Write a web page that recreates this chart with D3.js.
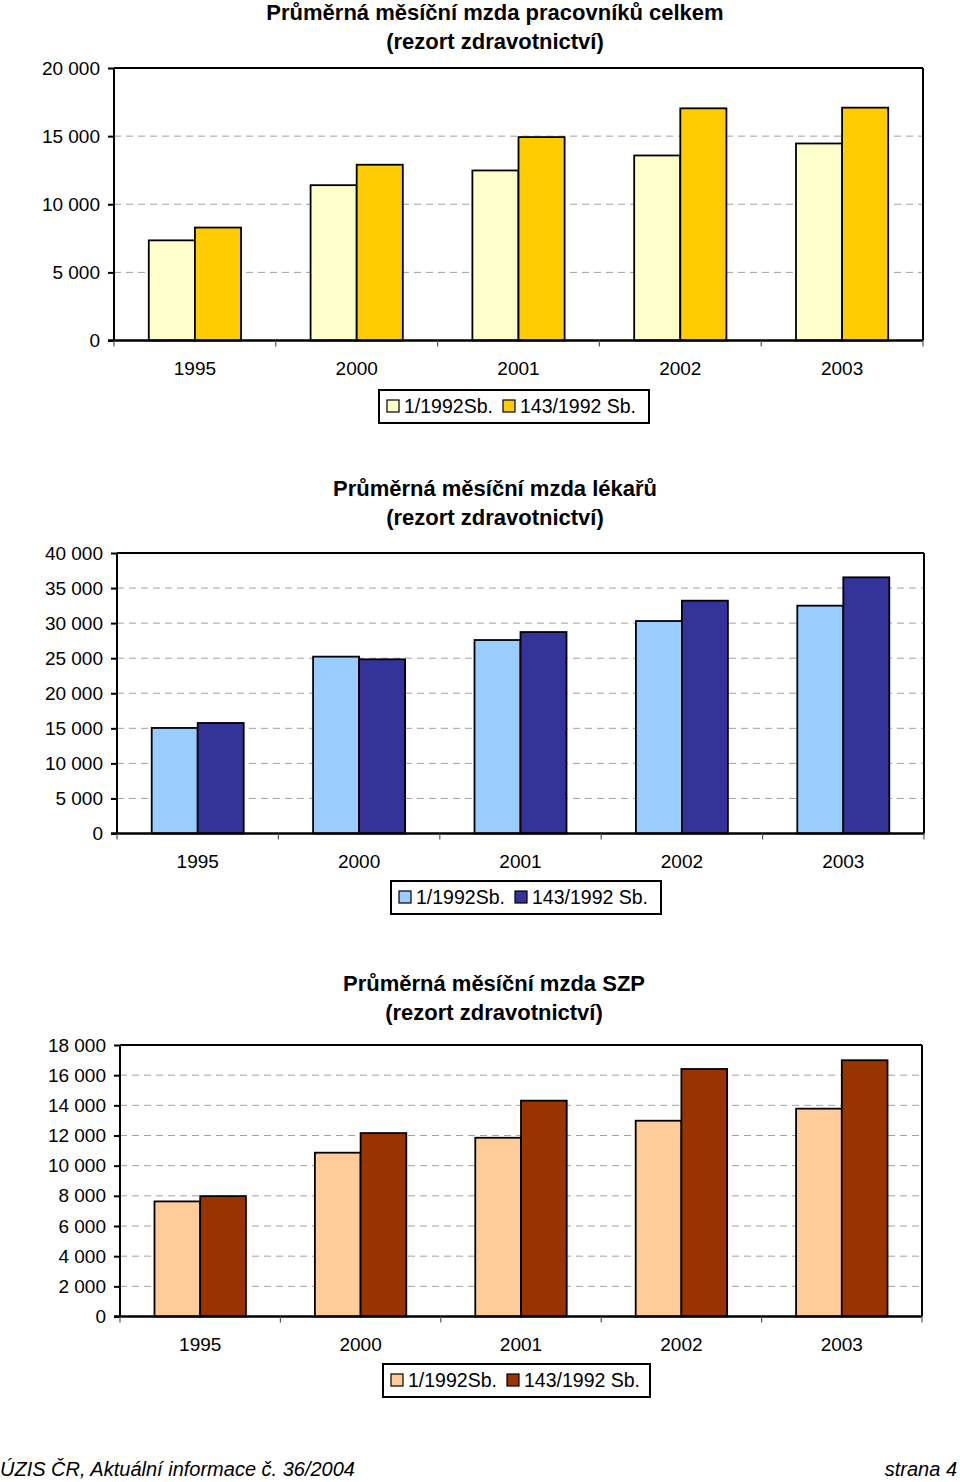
<!DOCTYPE html>
<html><head><meta charset="utf-8">
<script src="https://cdn.jsdelivr.net/npm/d3@7"></script>
<style>
body{margin:0;background:#fff;}
svg{display:block;font-family:"Liberation Sans",Arial,sans-serif;}
</style></head>
<body>
<svg id="c" width="960" height="1482"></svg>
<script>
const categories = ["1995","2000","2001","2002","2003"];
const seriesNames = ["1/1992Sb.","143/1992 Sb."];

const chart1Title = ["Průměrná měsíční mzda pracovníků celkem","(rezort zdravotnictví)"];
const chart1Old = [7350, 11400, 12480, 13580, 14460];
const chart1New = [8290, 12900, 14930, 17040, 17090];
const chart1Ticks = [0, 5000, 10000, 15000, 20000];

const chart2Title = ["Průměrná měsíční mzda lékařů","(rezort zdravotnictví)"];
const chart2Old = [15050, 25220, 27590, 30300, 32490];
const chart2New = [15760, 24840, 28730, 33200, 36530];
const chart2Ticks = [0, 5000, 10000, 15000, 20000, 25000, 30000, 35000, 40000];

const chart3Title = ["Průměrná měsíční mzda SZP","(rezort zdravotnictví)"];
const chart3Old = [7630, 10860, 11850, 12980, 13780];
const chart3New = [7980, 12160, 14310, 16410, 16990];
const chart3Ticks = [0, 2000, 4000, 6000, 8000, 10000, 12000, 14000, 16000, 18000];

const footerLeft = "ÚZIS ČR, Aktuální informace č. 36/2004";
const footerRight = "strana 4";

const svg = d3.select("#c");
const fmt = v => d3.format(",")(v).replace(/,/g, " ");

function drawChart(o) {
  const g = svg.append("g");
  const x0 = d3.scaleBand().domain(categories).range([o.left, o.right]).paddingInner(0.43).paddingOuter(0.215);
  const x1 = d3.scaleBand().domain([0,1]).range([0, x0.bandwidth()]);
  const y = d3.scaleLinear().domain([0, o.ticks[o.ticks.length-1]]).range([o.bottom, o.top]);

  // title
  o.title.forEach((t,i) => g.append("text").attr("x", o.titleX).attr("y", o.titleY + i*28.5)
    .attr("text-anchor","middle").attr("font-weight","bold").attr("font-size",22).attr("fill","#000").text(t));

  // grid
  g.append("g").selectAll("line").data(o.ticks.slice(1, -1)).join("line")
    .attr("x1", o.left).attr("x2", o.right).attr("y1", d => y(d)).attr("y2", d => y(d))
    .attr("stroke", "#a0a0a0").attr("stroke-width", 1).attr("stroke-dasharray", "7,5");

  // plot frame top/right
  g.append("line").attr("x1", o.left).attr("x2", o.right).attr("y1", o.top).attr("y2", o.top).attr("stroke","#000").attr("stroke-width",2);
  g.append("line").attr("x1", o.right).attr("x2", o.right).attr("y1", o.top).attr("y2", o.bottom).attr("stroke","#000").attr("stroke-width",2);

  // bars
  const rows = categories.map((c,i) => ({c, v:[o.old[i], o.neu[i]]}));
  const grp = g.append("g").selectAll("g").data(rows).join("g").attr("transform", d => `translate(${x0(d.c)},0)`);
  grp.selectAll("rect").data(d => d.v.map((v,k)=>({v,k}))).join("rect")
    .attr("x", d => x1(d.k)).attr("width", x1.bandwidth())
    .attr("y", d => y(d.v)).attr("height", d => o.bottom - y(d.v))
    .attr("fill", d => o.colors[d.k]).attr("stroke", "#000").attr("stroke-width", 1.8);

  // y axis
  const ya = g.append("g").attr("transform", `translate(${o.left},0)`)
    .call(d3.axisLeft(y).tickValues(o.ticks).tickFormat(fmt).tickSize(6).tickPadding(8));
  ya.select(".domain").attr("stroke","#000").attr("stroke-width",2).attr("d", `M0,${o.top}V${o.bottom}`);
  ya.selectAll(".tick line").attr("stroke","#000").attr("stroke-width",2);
  ya.selectAll("text").attr("font-size",19).attr("font-family","Liberation Sans, Arial, sans-serif").attr("fill","#000");

  // x axis
  const xa = g.append("g").attr("transform", `translate(0,${o.bottom})`)
    .call(d3.axisBottom(x0).tickSize(0).tickPadding(21));
  xa.select(".domain").attr("stroke","#000").attr("stroke-width",2.5).attr("d", `M${o.left-6},0H${o.right}`);
  xa.selectAll("text").attr("font-size",19).attr("font-family","Liberation Sans, Arial, sans-serif").attr("fill","#000");
  const bounds = d3.range(categories.length + 1).map(i => o.left + i * x0.step());
  g.append("g").selectAll("line").data(bounds).join("line")
    .attr("x1", d => d).attr("x2", d => d).attr("y1", o.bottom).attr("y2", o.bottom + 6)
    .attr("stroke", "#555").attr("stroke-width", 1.2);

  // legend
  const lg = g.append("g");
  lg.append("rect").attr("x", o.legX).attr("y", o.legY).attr("width", o.legW).attr("height", 33)
    .attr("fill","#fff").attr("stroke","#000").attr("stroke-width",2);
  const offs = [8, 124];
  seriesNames.forEach((s,k) => {
    lg.append("rect").attr("x", o.legX + offs[k]).attr("y", o.legY + 10).attr("width", 12).attr("height", 12)
      .attr("fill", o.colors[k]).attr("stroke","#000").attr("stroke-width",1.2);
    lg.append("text").attr("x", o.legX + offs[k] + 17).attr("y", o.legY + 23).attr("font-size",19.5).attr("fill","#000").text(s);
  });
}

drawChart({title: chart1Title, old: chart1Old, neu: chart1New, ticks: chart1Ticks,
  colors: ["#FFFFCC","#FFCC00"], left: 114, right: 923, top: 68, bottom: 340.5,
  titleX: 495, titleY: 20, legX: 379, legY: 390, legW: 270});
drawChart({title: chart2Title, old: chart2Old, neu: chart2New, ticks: chart2Ticks,
  colors: ["#99CCFF","#333399"], left: 117, right: 924, top: 553, bottom: 833.5,
  titleX: 495, titleY: 496, legX: 391, legY: 881, legW: 270});
drawChart({title: chart3Title, old: chart3Old, neu: chart3New, ticks: chart3Ticks,
  colors: ["#FFCC99","#993300"], left: 120, right: 922, top: 1045, bottom: 1316.5,
  titleX: 494, titleY: 991, legX: 383, legY: 1364, legW: 267});

svg.append("text").attr("x", 0).attr("y", 1476).attr("font-size",20).attr("font-style","italic").attr("fill","#000").text(footerLeft);
svg.append("text").attr("x", 957).attr("y", 1476).attr("text-anchor","end").attr("font-size",20).attr("font-style","italic").attr("fill","#000").text(footerRight);
</script>
</body></html>
